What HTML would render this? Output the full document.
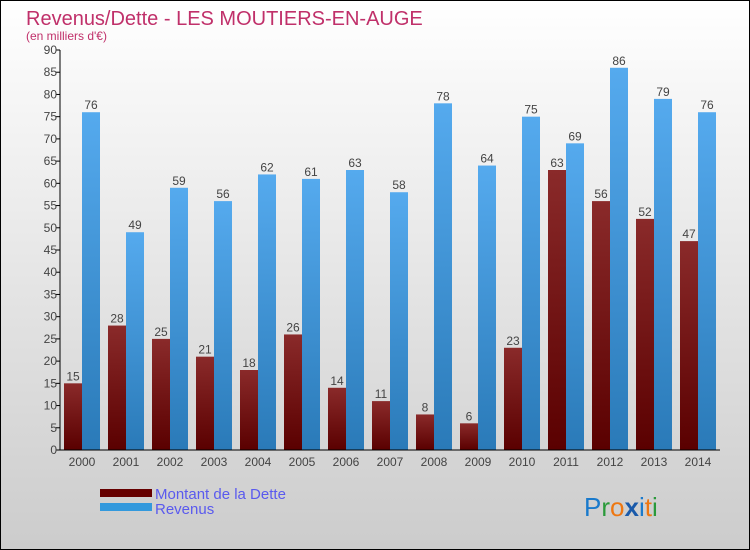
<!DOCTYPE html>
<html><head><meta charset="utf-8"><style>
body{margin:0;}
#c{width:750px;height:550px;position:relative;box-sizing:border-box;border:1px solid #000;background:linear-gradient(#ffffff,#cccccc);font-family:"Liberation Sans",sans-serif;overflow:hidden;}
</style></head><body>
<div id="c">
<svg id="s" width="750" height="550" style="position:absolute;left:-1px;top:-1px">
<defs>
<linearGradient id="gd" x1="0" y1="0" x2="0" y2="1"><stop offset="0" stop-color="#8a2a2a"/><stop offset="1" stop-color="#5a0000"/></linearGradient>
<linearGradient id="gr" x1="0" y1="0" x2="0" y2="1"><stop offset="0" stop-color="#55aaee"/><stop offset="1" stop-color="#2a7ab8"/></linearGradient>
</defs>
<text x="26" y="25" font-size="20" fill="#c0306a">Revenus/Dette - LES MOUTIERS-EN-AUGE</text>
<text x="26" y="40" font-size="12" fill="#c0306a">(en milliers d'€)</text>
<g id="plot"></g>
<rect x="100" y="489" width="52" height="8" fill="#660000"/>
<rect x="100" y="503" width="52" height="8" fill="#3399dd"/>
<text x="155" y="499" font-size="15" fill="#5a5aee">Montant de la Dette</text>
<text x="155" y="514" font-size="15" fill="#5a5aee">Revenus</text>
<g font-size="26" font-family="'Liberation Sans',sans-serif">
<text x="584" y="516"><tspan fill="#1a7acc">P</tspan><tspan fill="#2a9a3a">r</tspan><tspan fill="#ee7711">o</tspan><tspan fill="#1a5aaa" font-weight="bold">x</tspan><tspan fill="#1a7acc">i</tspan><tspan fill="#ee7711">t</tspan><tspan fill="#2a9a3a">i</tspan></text>
</g>
</svg>
</div>
<script>
const years=["2000","2001","2002","2003","2004","2005","2006","2007","2008","2009","2010","2011","2012","2013","2014"];
const dette=[15,28,25,21,18,26,14,11,8,6,23,63,56,52,47];
const revenus=[76,49,59,56,62,61,63,58,78,64,75,69,86,79,76];
const yTicks=[0,5,10,15,20,25,30,35,40,45,50,55,60,65,70,75,80,85,90];
const NS="http://www.w3.org/2000/svg";
const L=60,R=720,T=50,B=450,MAX=90;
const y=v=>B-(v/MAX)*(B-T);
const step=(R-L)/years.length;
const xc=i=>L+step*(i+0.5);
const g=document.getElementById('plot');
function mk(t,a){const e=document.createElementNS(NS,t);for(const k in a)e.setAttribute(k,a[k]);g.appendChild(e);return e;}
yTicks.forEach(v=>{
 const t=mk('line',{x1:L-4,x2:L,y1:y(v),y2:y(v),stroke:'#000'});
 
 
 const l=mk('text',{x:L-3,y:y(v)+4,'text-anchor':'end','font-size':12,fill:'#444'});
 l.textContent=v;
 
 
});
years.forEach((yr,i)=>{
 const c=xc(i);
 const d=mk('rect',{x:c-18,y:y(dette[i]),width:18,height:B-y(dette[i]),fill:'url(#gd)'});
 
 
 const r=mk('rect',{x:c,y:y(revenus[i]),width:18,height:B-y(revenus[i]),fill:'url(#gr)'});
 
 
 const dl=mk('text',{x:c-9,y:y(dette[i])-3,'text-anchor':'middle','font-size':12,fill:'#444'});
 dl.textContent=dette[i];
 
 
 const rl=mk('text',{x:c+9,y:y(revenus[i])-3,'text-anchor':'middle','font-size':12,fill:'#444'});
 rl.textContent=revenus[i];
 
 
 const xl=mk('text',{x:c,y:B+16,'text-anchor':'middle','font-size':12,fill:'#444'});
 xl.textContent=yr;
 
 
});
const ya=mk('line',{x1:L,x2:L,y1:T,y2:B,stroke:'#000'});


const xa=mk('line',{x1:L,x2:R,y1:B,y2:B,stroke:'#000'});


</script>
</body></html>
